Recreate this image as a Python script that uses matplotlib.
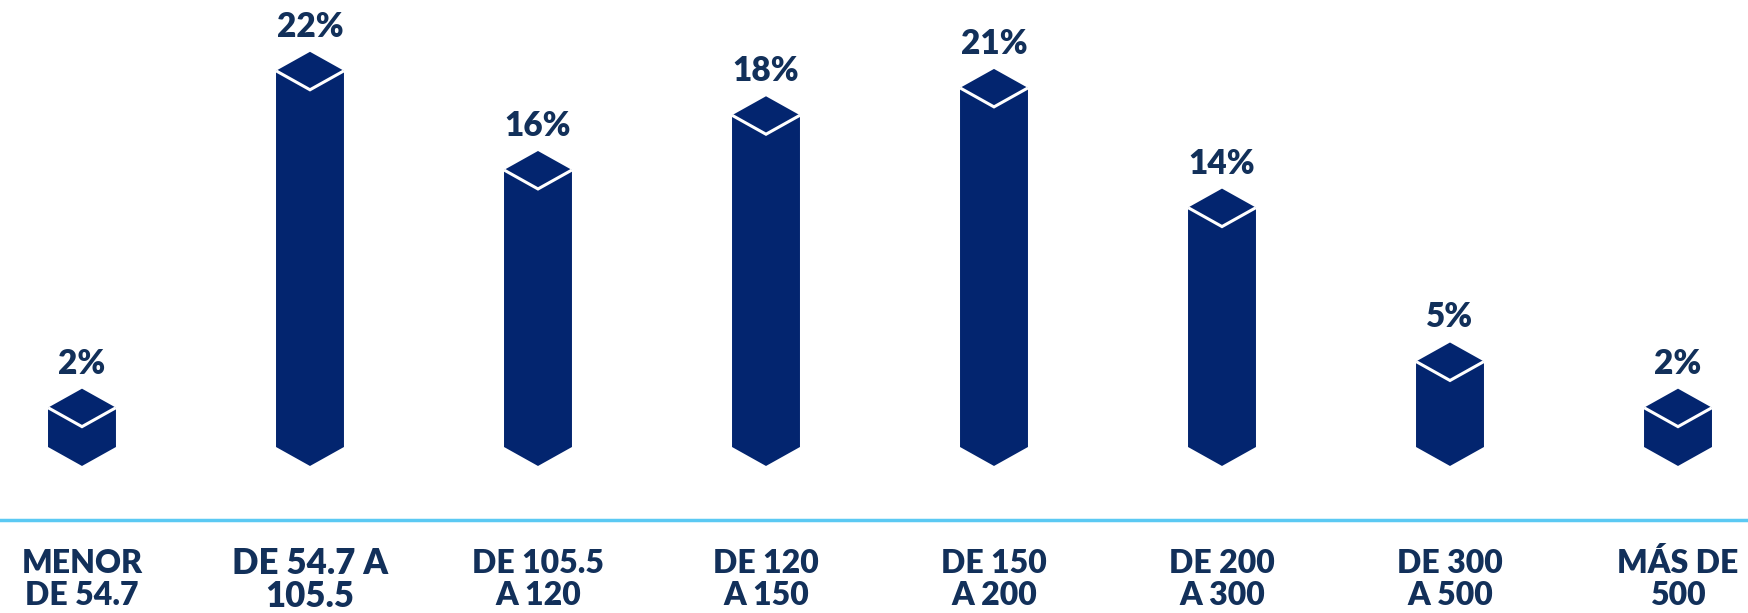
import matplotlib
matplotlib.use("Agg")
import matplotlib.pyplot as plt
from matplotlib.patches import Polygon

# data
categories = ["MENOR\nDE 54.7", "DE 54.7 A\n105.5", "DE 105.5\nA 120", "DE 120\nA 150",
              "DE 150\nA 200", "DE 200\nA 300", "DE 300\nA 500", "MÁS DE\n500"]
share_labels = ["2%", "22%", "16%", "18%", "21%", "14%", "5%", "2%"]
# bar heights as drawn (percent)
heights = [2.3, 22.0, 16.2, 19.4, 21.0, 14.0, 5.0, 2.3]

navy = "#03256f"
text_col = "#12305a"
line_col = "#5bc9f3"

fig = plt.figure(figsize=(17.48, 6.13), dpi=100)
ax = fig.add_axes([0, 0, 1, 1])
ax.set_xlim(-0.3596, 7.307)
ax.set_ylim(-9.708, 26.14)
ax.axis("off")

half_w = 0.149   # half bar width in category units
d = 1.11         # isometric rise of the top / bottom faces

for i, h in enumerate(heights):
    pts = [(i - half_w, 0), (i - half_w, h), (i, h + d), (i + half_w, h),
           (i + half_w, 0), (i, -d)]
    ax.add_patch(Polygon(pts, closed=True, facecolor=navy, edgecolor="none"))
    # white V that separates the top face from the sides
    ax.plot([i - half_w, i, i + half_w], [h, h - d, h], color="white", lw=2.2,
            solid_capstyle="butt", solid_joinstyle="miter")
    ax.text(i, h + d + 0.88, share_labels[i], ha="center", va="baseline",
            fontsize=24, fontweight="heavy", family=["Lato", "DejaVu Sans"], color=text_col)

# light blue base line
ax.axhline(-4.27, color=line_col, lw=2.5)

# category labels (y is the baseline of the last line)
for i, cat in enumerate(categories):
    if i == 1:
        size, y0, ls = 25, -9.38, 1.03
    else:
        size, y0, ls = 23, -9.24, 1.13
    ax.text(i, y0, cat, ha="center", va="baseline", fontsize=size, fontweight="heavy",
            family=["Lato", "DejaVu Sans"], color=text_col, linespacing=ls,
            multialignment="center")

fig.savefig("out.png", dpi=100)
